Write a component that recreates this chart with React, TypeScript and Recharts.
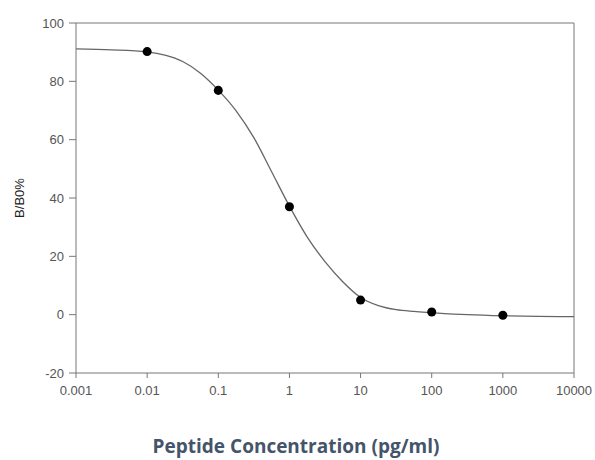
import { ComposedChart, Line, Scatter, XAxis, YAxis, ReferenceLine } from 'recharts';

// measured standards (pg/ml vs B/B0%)
const concentrations = [0.01, 0.1, 1, 10, 100, 1000];
const bb0Values = [90.2, 76.9, 37.0, 5.0, 0.9, -0.2];

// fitted curve at quarter-decade steps
const curveX = [
  0.001, 0.00316, 0.01, 0.0178, 0.0316, 0.0562, 0.1, 0.178, 0.316, 0.562, 1, 1.78, 3.16, 5.62, 10, 17.8, 31.6,
  56.2, 100, 316, 1000, 3160, 10000,
];
const curveY = [
  91.1, 90.8, 90.1, 89.0, 86.8, 82.8, 77.0, 69.9, 60.7, 49.0, 37.2, 26.6, 18.2, 11.3, 5.9, 3.1, 1.7, 1.1, 0.7, 0.0,
  -0.4, -0.6, -0.7,
];

const xTicks = [0.001, 0.01, 0.1, 1, 10, 100, 1000, 10000];
const yTicks = [-20, 0, 20, 40, 60, 80, 100];

const points = concentrations.map((x, i) => ({ x, y: bb0Values[i] }));
const curve = curveX.map((x, i) => ({ x, y: curveY[i] }));

const font = 'Liberation Sans, Arial, sans-serif';
const tickStyle = { fill: '#555', fontSize: 13, fontFamily: font };

export default function App() {
  return (
    <div style={{ position: 'absolute', left: 0, top: 0, width: 595, height: 460, background: '#fff' }}>
      <ComposedChart width={595} height={460} margin={{ top: 23, right: 21, bottom: 57, left: 0 }}>
        <XAxis
          dataKey="x"
          type="number"
          scale="log"
          domain={[0.001, 10000]}
          ticks={xTicks}
          allowDataOverflow
          height={30}
          stroke="#777"
          tickSize={5}
          tickMargin={8}
          tick={tickStyle}
          tickFormatter={(v: number) => String(v)}
        />
        <YAxis
          type="number"
          domain={[-20, 100]}
          ticks={yTicks}
          width={76}
          stroke="#777"
          tickSize={7}
          tickMargin={5}
          tick={tickStyle}
          label={{
            value: 'B/B0%',
            angle: -90,
            position: 'insideLeft',
            offset: 19,
            style: { fill: '#222', fontSize: 13, fontFamily: font, textAnchor: 'middle' },
          }}
        />
        <ReferenceLine y={100} stroke="#777" />
        <ReferenceLine x={10000} stroke="#777" />
        <Line
          data={curve}
          dataKey="y"
          type="monotone"
          stroke="#666"
          strokeWidth={1.3}
          dot={false}
          isAnimationActive={false}
        />
        <Scatter data={points} dataKey="y" fill="#000" shape="circle" isAnimationActive={false} />
      </ComposedChart>
      <div
        style={{
          position: 'absolute',
          left: 0,
          width: 592,
          top: 434,
          textAlign: 'center',
          fontFamily: 'Open Sans, sans-serif',
          fontWeight: 700,
          fontSize: 19,
          lineHeight: '24px',
          color: '#44546A',
        }}
      >
        Peptide Concentration (pg/ml)
      </div>
    </div>
  );
}
